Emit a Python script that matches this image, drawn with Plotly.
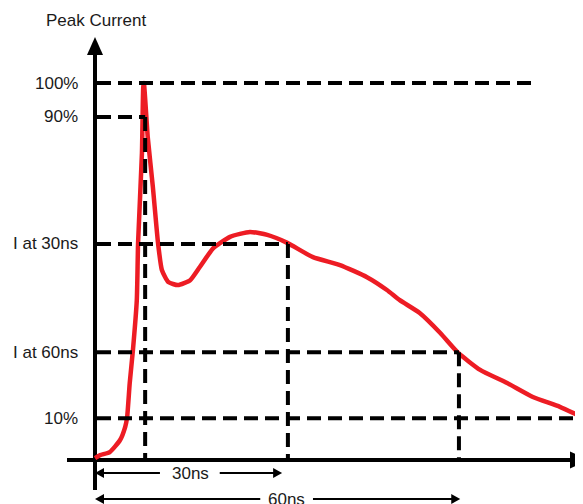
import plotly.graph_objects as go

# ---- Data (time in ns, current in % of peak) ----
t_ns = [0, 0.8, 2.3, 3.9, 4.7, 5.0, 5.4, 5.9, 6.5, 6.7, 7.3, 7.5, 7.6, 8.2, 9.0, 9.8,
        10.4, 11.4, 12.9, 14.8, 16.3, 18.4, 21.0, 24.1, 26.8, 29.9, 33.9, 38.1, 42.3,
        45.4, 47.4, 50.5, 53.7, 56.5, 59.9, 64.1, 68.1, 72.3, 75.7]
current_pct = [0.5, 1.3, 2.1, 5.3, 8.8, 11.4, 20.4, 29.2, 42.4, 57.6, 81.4, 98.9, 100,
               85.7, 72.4, 57.6, 50.4, 47.2, 46.4, 47.7, 51.2, 56.2, 59.2, 60.5, 59.7,
               57.6, 53.8, 51.7, 48.5, 45.1, 42.4, 39.0, 33.7, 28.4, 23.9, 20.4, 16.7,
               14.1, 11.4]

level_labels = ["100%", "90%", "I at 30ns", "I at 60ns", "10%"]
level_values = [100, 91.0, 57.3, 28.6, 11.1]
level_ends = [68.1, 7.8, 30.0, 56.6, 75.9]

marker_t = [7.8, 30.0, 56.6]
marker_levels = [91.0, 57.3, 28.6]

span_labels = ["30ns", "60ns"]
span_ends = [29.1, 56.8]
span_rows = [-3.45, -10.35]
span_text_x = [14.9, 29.8]
span_gaps = [(10.1, 19.4), (25.7, 33.9)]

# ---- scale helpers (pixels per unit, for decorative arrowheads) ----
PX_X = 6.43
PX_Y = 3.77
OFF = 8  # page body margin of the browser
W, H = 583, 504
X_RANGE = [(OFF - 95) / PX_X, (W - 95) / PX_X]
Y_RANGE = [(460 - H) / PX_Y, (460 - OFF) / PX_Y]
WIN_TOP = 460 / PX_Y      # current value at the top edge of the window
WIN_RIGHT = (W - 95) / PX_X

FONT = "Liberation Sans, Arial, sans-serif"
DASH = "14px,7px"
BLACK = "#000000"
RED = "#ED1C24"
TXT = "#1a1a1a"
FS = 17


def dx(px):
    return px / PX_X


def dy(px):
    return px / PX_Y


def tri(tip_x, tip_y, direction, length_px, half_px):
    """Filled triangle path; direction in {'up','right','left'}"""
    if direction == "up":
        bx, by = tip_x, tip_y - dy(length_px)
        p = [(tip_x, tip_y), (bx - dx(half_px), by), (bx + dx(half_px), by)]
    elif direction == "right":
        bx, by = tip_x - dx(length_px), tip_y
        p = [(tip_x, tip_y), (bx, by + dy(half_px)), (bx, by - dy(half_px))]
    else:
        bx, by = tip_x + dx(length_px), tip_y
        p = [(tip_x, tip_y), (bx, by + dy(half_px)), (bx, by - dy(half_px))]
    return "M{},{} L{},{} L{},{} Z".format(p[0][0], p[0][1], p[1][0], p[1][1], p[2][0], p[2][1])


fig = go.Figure()

# waveform
fig.add_trace(go.Scatter(
    x=t_ns, y=current_pct, mode="lines",
    line=dict(color=RED, width=4.5, shape="spline", smoothing=0.5),
    hoverinfo="skip", showlegend=False))

# horizontal dashed level lines
for lv, end in zip(level_values, level_ends):
    fig.add_trace(go.Scatter(
        x=[dx(2), end], y=[lv, lv], mode="lines",
        line=dict(color=BLACK, width=4, dash=DASH),
        hoverinfo="skip", showlegend=False))

# vertical dashed marker lines
for tm, lv in zip(marker_t, marker_levels):
    fig.add_trace(go.Scatter(
        x=[tm, tm], y=[lv, 0], mode="lines",
        line=dict(color=BLACK, width=4, dash=DASH),
        hoverinfo="skip", showlegend=False))

shapes = []
# y axis
shapes.append(dict(type="line", xref="x", yref="y", x0=0, x1=0,
                   y0=-dy(30), y1=WIN_TOP - dy(50),
                   line=dict(color=BLACK, width=4), layer="below"))
shapes.append(dict(type="path", xref="x", yref="y",
                   path=tri(0, WIN_TOP - dy(37), "up", 18, 8),
                   fillcolor=BLACK, line=dict(width=0), layer="below"))
# x axis
shapes.append(dict(type="line", xref="x", yref="y", x0=-dx(28), x1=WIN_RIGHT - dx(10),
                   y0=0, y1=0, line=dict(color=BLACK, width=4), layer="below"))
shapes.append(dict(type="path", xref="x", yref="y",
                   path=tri(WIN_RIGHT + dx(5), 0, "right", 18, 8.5),
                   fillcolor=BLACK, line=dict(width=0), layer="below"))

annotations = []
# span arrows
for lab, end, row, tx, gap in zip(span_labels, span_ends, span_rows, span_text_x, span_gaps):
    shapes.append(dict(type="line", xref="x", yref="y", x0=dx(5), x1=gap[0], y0=row, y1=row,
                       line=dict(color=BLACK, width=2)))
    shapes.append(dict(type="line", xref="x", yref="y", x0=gap[1], x1=end - dx(5), y0=row, y1=row,
                       line=dict(color=BLACK, width=2)))
    shapes.append(dict(type="path", xref="x", yref="y", path=tri(0, row, "left", 9, 5),
                       fillcolor=BLACK, line=dict(width=0)))
    shapes.append(dict(type="path", xref="x", yref="y", path=tri(end, row, "right", 9, 5),
                       fillcolor=BLACK, line=dict(width=0)))
    annotations.append(dict(x=tx, y=row, xref="x", yref="y", text=lab, showarrow=False,
                            font=dict(family=FONT, size=FS, color=TXT),
                            xanchor="center", yanchor="middle"))

# level labels
for lab, lv in zip(level_labels, level_values):
    annotations.append(dict(x=-dx(15), y=lv, xref="x", yref="y", text=lab, showarrow=False,
                            font=dict(family=FONT, size=FS, color=TXT),
                            xanchor="right", yanchor="middle"))

annotations.append(dict(x=dx(1), y=WIN_TOP - dy(20), xref="x", yref="y", text="Peak Current",
                        showarrow=False, font=dict(family=FONT, size=FS, color=TXT),
                        xanchor="center", yanchor="middle"))

fig.update_layout(
    width=W - OFF, height=H - OFF,
    margin=dict(l=0, r=0, t=0, b=0),
    paper_bgcolor="white", plot_bgcolor="white",
    xaxis=dict(range=X_RANGE, visible=False, fixedrange=True),
    yaxis=dict(range=Y_RANGE, visible=False, fixedrange=True),
    shapes=shapes, annotations=annotations,
    showlegend=False,
)

fig.write_html("out.html")
